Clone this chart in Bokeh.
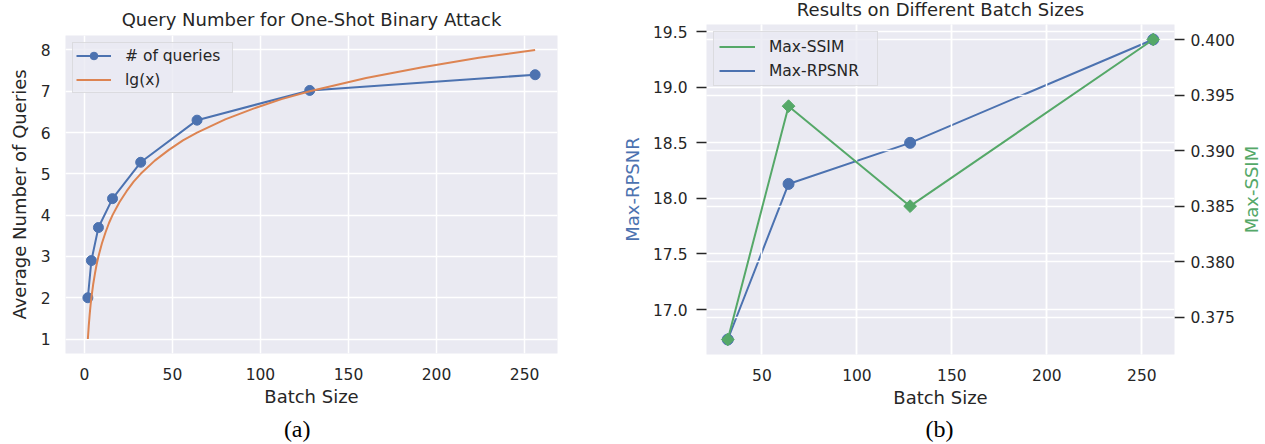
import math
from bokeh.plotting import figure
from bokeh.layouts import row
from bokeh.models import (Range1d, LinearAxis, Grid, FixedTicker, PrintfTickFormatter,
                          Legend, LegendItem)
from bokeh.core.properties import value
from bokeh.embed import file_html
from bokeh.resources import INLINE

# ---------------- data: (a) query number ----------------
batch_a = [2, 4, 8, 16, 32, 64, 128, 256]
queries = [2.0, 2.9, 3.7, 4.4, 5.28, 6.3, 7.02, 7.4]
lg_x = [2, 2.5, 3, 3.5, 4, 5, 6, 7, 8, 10, 12, 14, 16, 20, 24, 28, 32, 40, 48, 56,
        64, 80, 96, 112, 128, 160, 192, 224, 256]
lg_y = [1.0, 1.32, 1.58, 1.81, 2.0, 2.32, 2.58, 2.81, 3.0, 3.32, 3.58, 3.81, 4.0, 4.32,
        4.58, 4.81, 5.0, 5.32, 5.58, 5.81, 6.0, 6.32, 6.58, 6.81, 7.0, 7.32, 7.58, 7.81, 8.0]
xticks_a = [0, 50, 100, 150, 200, 250]
yticks_a = [1, 2, 3, 4, 5, 6, 7, 8]

# ---------------- data: (b) batch sizes ----------------
batch_b = [32, 64, 128, 256]
rpsnr = [16.73, 18.13, 18.50, 19.43]
ssim = [0.373, 0.394, 0.385, 0.400]
xticks_b = [50, 100, 150, 200, 250]
yticks_rpsnr = [17.0, 17.5, 18.0, 18.5, 19.0, 19.5]
yticks_ssim = [0.375, 0.380, 0.385, 0.390, 0.395, 0.400]

title_a = "Query Number for One-Shot Binary Attack"
title_b = "Results on Different Batch Sizes"
caption_a = "(a)"
caption_b = "(b)"

# ---------------- style ----------------
BLUE, ORANGE, GREEN = "#4C72B0", "#DD8452", "#55A868"
BG = "#EAEAF2"
TXT = "#262626"
FONT = "DejaVu Sans"
SERIF = "Liberation Serif"
TICK_FS = "15.5px"
LAB_FS = 18
CAP_FS = 24
H = 443
BASE_SHIFT = 0.37   # measured offset (in em) of the drawn text below its anchor


def mpl_range(vals, frac=0.05):
    lo, hi = min(vals), max(vals)
    pad = (hi - lo) * frac
    return Range1d(lo - pad, hi + pad)


def style_axis(ax, tick_out=0, standoff=14, label_standoff=3):
    ax.axis_line_color = None
    ax.minor_tick_line_color = None
    if tick_out:
        ax.major_tick_out = tick_out
        ax.major_tick_in = 0
        ax.major_tick_line_color = TXT
        ax.major_tick_line_width = 1.6
    else:
        ax.major_tick_line_color = None
        ax.major_tick_out = 0
        ax.major_tick_in = 0
    ax.major_label_standoff = standoff
    ax.major_label_text_font = FONT
    ax.major_label_text_font_size = TICK_FS
    ax.major_label_text_color = TXT
    ax.axis_label_text_font = FONT
    ax.axis_label_text_font_size = f"{LAB_FS}px"
    ax.axis_label_text_font_style = "normal"
    ax.axis_label_text_color = TXT
    ax.axis_label_standoff = label_standoff


def make_fig(xr, yr, fw, fh, bl, br, bt, bb):
    p = figure(title=None, frame_width=fw, frame_height=fh, x_range=xr, y_range=yr,
               min_border_left=bl, min_border_right=br, min_border_top=bt,
               min_border_bottom=bb, output_backend="svg", toolbar_location=None,
               background_fill_color=BG, border_fill_color="white",
               outline_line_color=None)
    if "frame_align" in type(p).properties():
        p.frame_align = False
    return p


def style_grid(p):
    for g in (p.xgrid, p.ygrid):
        g.grid_line_color = "white"
        g.grid_line_width = 1.5


def style_legend(lg, gw, pad, lw):
    lg.label_text_font = FONT
    lg.label_text_font_size = TICK_FS
    lg.label_text_color = TXT
    lg.glyph_width = gw
    lg.glyph_height = 19
    lg.label_height = 19
    lg.label_width = lw
    lg.label_standoff = 14
    lg.spacing = 5
    lg.padding = pad
    lg.margin = 7
    lg.location = "top_left"
    lg.border_line_color = "#cccccc"
    lg.border_line_width = 1
    lg.background_fill_color = BG
    lg.background_fill_alpha = 0.8


class Geo:
    """maps canvas pixels of one figure to its data coordinates"""
    def __init__(self, p, xr, yr, left, top):
        self.p, self.xr, self.yr, self.left, self.top = p, xr, yr, left, top

    def x(self, cx):
        return self.xr.start + (cx - self.left) / self.p.frame_width * (self.xr.end - self.xr.start)

    def y(self, cy):
        return self.yr.end - (cy - self.top) / self.p.frame_height * (self.yr.end - self.yr.start)


def add_text(p, g, cx, cy, txt, font, size, color, angle=0.0):
    """cx, cy: wanted canvas position of the text baseline (centre)."""
    shift = BASE_SHIFT * size
    if angle:
        cx -= shift
    else:
        cy -= shift
    p.text(x=[g.x(cx)], y=[g.y(cy)], text=[txt], angle=angle, text_align="center",
           text_baseline="alphabetic", text_font=value(font),
           text_font_size=value(f"{size}px"), text_color=color, level="overlay")


# =============== figure (a) ===============
xr1 = mpl_range(batch_a + lg_x)
yr1 = mpl_range(queries + lg_y)
B1L, B1T, F1W, F1H = 65, 35, 492, 318
p1 = make_fig(xr1, yr1, F1W, F1H, B1L, 600 - B1L - F1W, B1T, H - B1T - F1H)
style_grid(p1)
p1.xaxis.ticker = FixedTicker(ticks=xticks_a)
p1.yaxis.ticker = FixedTicker(ticks=yticks_a)
p1.xgrid.ticker = p1.xaxis[0].ticker
p1.ygrid.ticker = p1.yaxis[0].ticker
style_axis(p1.xaxis[0], 0, 14, 3)
style_axis(p1.yaxis[0], 0, 15, 8)
p1.xaxis.axis_label = "Batch Size"
p1.yaxis.axis_label = "Average Number of Queries"

r_ql = p1.line(batch_a, queries, line_color=BLUE, line_width=2)
r_qc = p1.scatter(batch_a, queries, marker="circle", size=10, fill_color=BLUE,
                  line_color=BLUE)
r_lg = p1.line(lg_x, lg_y, line_color=ORANGE, line_width=2)

leg1 = Legend(items=[LegendItem(label="# of queries", renderers=[r_ql, r_qc]),
                     LegendItem(label="lg(x)", renderers=[r_lg])])
style_legend(leg1, 35, 3, 104)
p1.add_layout(leg1, "center")

g1 = Geo(p1, xr1, yr1, B1L, B1T)
add_text(p1, g1, B1L + F1W / 2, 26, title_a, FONT, LAB_FS, TXT)
add_text(p1, g1, 296.7, 437.4, caption_a, SERIF, CAP_FS, "black")

# =============== figure (b) ===============
xr2 = mpl_range(batch_b)
yr2 = mpl_range(rpsnr)
yr_ssim = mpl_range(ssim)
X2 = 600            # page x of the second canvas
B2L, B2T, F2W, F2H = 106, 24, 468, 330
W2 = 663
p2 = make_fig(xr2, yr2, F2W, F2H, B2L, W2 - B2L - F2W, B2T, H - B2T - F2H)
p2.extra_y_ranges = {"ssim": yr_ssim}
style_grid(p2)
p2.xaxis.ticker = FixedTicker(ticks=xticks_b)
p2.yaxis.ticker = FixedTicker(ticks=yticks_rpsnr)
p2.xgrid.ticker = p2.xaxis[0].ticker
p2.ygrid.ticker = p2.yaxis[0].ticker
p2.yaxis.formatter = PrintfTickFormatter(format="%.1f")
style_axis(p2.xaxis[0], 0, 14, 3)
style_axis(p2.yaxis[0], 10, 9, 7)
p2.xaxis.axis_label = "Batch Size"
p2.yaxis.axis_label = "Max-RPSNR"
p2.yaxis.axis_label_text_color = BLUE

ax_ssim = LinearAxis(y_range_name="ssim", ticker=FixedTicker(ticks=yticks_ssim),
                     formatter=PrintfTickFormatter(format="%.3f"))
style_axis(ax_ssim, 10, 6, 0)
p2.add_layout(ax_ssim, "right")

# blue series (first axes)
r_bl = p2.line(batch_b, rpsnr, line_color=BLUE, line_width=2)
r_bc = p2.scatter(batch_b, rpsnr, marker="circle", size=11, fill_color=BLUE,
                  line_color=BLUE)

# grid of the twin axes, drawn over the blue series
g2y = Grid(dimension=1, ticker=ax_ssim.ticker, y_range_name="ssim",
           grid_line_color="white", grid_line_width=1.5, level="guide")
g2x = Grid(dimension=0, ticker=p2.xaxis[0].ticker, grid_line_color="white",
           grid_line_width=1.5, level="guide")
p2.add_layout(g2y, "center")
p2.add_layout(g2x, "center")

# green series (twin axes)
r_gl = p2.line(batch_b, ssim, y_range_name="ssim", line_color=GREEN, line_width=2,
               level="annotation")
r_gd = p2.scatter(batch_b, ssim, y_range_name="ssim", marker="square",
                  angle=math.pi / 4, size=9, fill_color=GREEN, line_color=GREEN,
                  level="annotation")
# legend-only diamond (the legend draws markers unrotated)
r_gdl = p2.scatter(x=[], y=[], y_range_name="ssim", marker="diamond", size=14,
                   fill_color=GREEN, line_color=GREEN)

leg2 = Legend(items=[LegendItem(label="Max-SSIM", renderers=[r_gl, r_gdl]),
                     LegendItem(label="Max-RPSNR", renderers=[r_bl])])
style_legend(leg2, 36, 5, 103)
p2.add_layout(leg2, "center")

g2 = Geo(p2, xr2, yr2, B2L, B2T)
add_text(p2, g2, B2L + F2W / 2, 15.5, title_b, FONT, LAB_FS, TXT)
add_text(p2, g2, 939 - X2, 437.4, caption_b, SERIF, CAP_FS, "black")
add_text(p2, g2, 1258 - X2, B2T + F2H / 2, "Max-SSIM", FONT, LAB_FS, GREEN,
         angle=math.pi / 2)

layout = row(p1, p2)
open("out.html", "w").write(file_html(layout, INLINE))
